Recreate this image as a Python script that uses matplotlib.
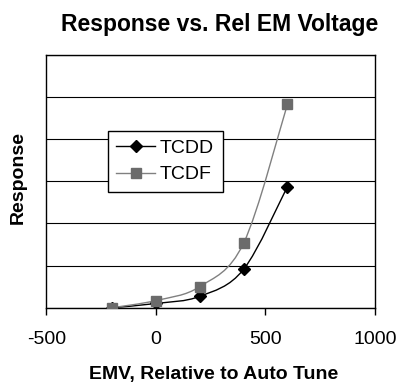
import matplotlib
matplotlib.use("Agg")
import matplotlib.pyplot as plt
from matplotlib.path import Path
from matplotlib.patches import PathPatch
from matplotlib.lines import Line2D
import numpy as np

plt.rcParams['font.family'] = ['Liberation Sans', 'DejaVu Sans']

emv = [-200, 0, 200, 400, 600]
tcdd = [0.0, 0.10, 0.27, 0.91, 2.87]
tcdf = [0.0, 0.17, 0.50, 1.53, 4.82]
xticks = [-500, 0, 500, 1000]

fig = plt.figure(figsize=(3.98, 3.84), dpi=100)
ax = fig.add_axes([0.1168, 0.1987, 0.8254, 0.6589])
ax.set_xlim(-500, 1000)
ax.set_ylim(0, 6)
ax.set_xticks(xticks)
ax.set_xticklabels([str(t) for t in xticks], fontsize=14)
ax.set_yticks(range(0, 7))
ax.tick_params(axis='y', length=0, labelleft=False)
ax.tick_params(axis='x', direction='out', length=5, width=1, pad=12)
ax.yaxis.grid(True, color='black', linewidth=0.8)
ax.set_axisbelow(True)
for s in ax.spines.values():
    s.set_linewidth(1.0)
    s.set_color('black')


def smooth_path(xs, ys):
    pts = np.column_stack([xs, ys]).astype(float)
    n = len(pts)
    verts = [pts[0]]
    codes = [Path.MOVETO]
    for i in range(n - 1):
        p0 = pts[i - 1] if i > 0 else pts[i]
        p1 = pts[i]
        p2 = pts[i + 1]
        p3 = pts[i + 2] if i + 2 < n else pts[i + 1]
        c1 = p1 + (p2 - p0) / 6.0
        c2 = p2 - (p3 - p1) / 6.0
        verts += [c1, c2, p2]
        codes += [Path.CURVE4] * 3
    return Path(verts, codes)


series = [
    ("TCDD", tcdd, 'black', 'black', 'D', 6.5),
    ("TCDF", tcdf, '#808080', '#6b6b6b', 's', 7.7),
]
handles = []
for name, ys, lc, mc, mk, ms in series:
    ax.add_patch(PathPatch(smooth_path(emv, ys), facecolor='none', edgecolor=lc,
                           linewidth=1.0, zorder=3))
    ax.plot(emv, ys, linestyle='none', marker=mk, markersize=ms,
            markerfacecolor=mc, markeredgecolor=mc, zorder=4)
    handles.append(Line2D([], [], color=lc, linewidth=1.0, marker=mk, markersize=ms,
                          markerfacecolor=mc, markeredgecolor=mc))

leg = ax.legend(handles, ["TCDD", "TCDF"], loc='upper left', bbox_to_anchor=(0.186, 0.700),
                borderaxespad=0, fontsize=14, frameon=True, fancybox=False,
                handlelength=2.0, handletextpad=0.25, borderpad=0.45, labelspacing=0.45)
leg.get_frame().set_edgecolor('black')
leg.get_frame().set_linewidth(1.0)
leg.get_frame().set_alpha(1)

fig.text(0.5515, 0.920, "Response vs. Rel EM Voltage", ha='center', va='baseline',
         fontsize=16.5, fontweight='bold')
fig.text(0.5365, 0.014, "EMV, Relative to Auto Tune", ha='center', va='baseline',
         fontsize=14, fontweight='bold')
fig.text(0.056, 0.538, "Response", ha='center', va='baseline', rotation=90,
         rotation_mode='anchor', fontsize=14, fontweight='bold')

fig.savefig("out.png", dpi=100)
